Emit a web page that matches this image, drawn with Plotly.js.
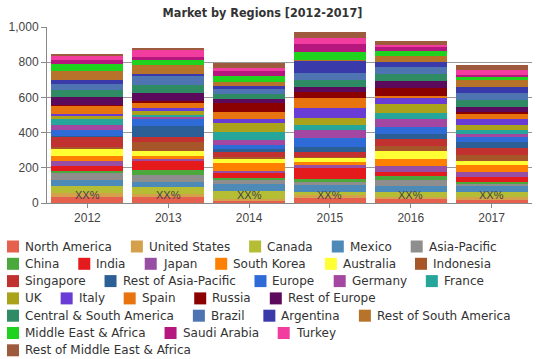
<!DOCTYPE html>
<html>
<head>
<meta charset="utf-8">
<script src="https://cdn.plot.ly/plotly-3.0.1.min.js"></script>
<style>html,body{margin:0;padding:0;background:#fff;}#chart{width:539px;height:359px;}</style>
</head>
<body>
<div id="chart"></div>
<script>
var years = ['2012', '2013', '2014', '2015', '2016', '2017'];
var regions = ['North America', 'United States', 'Canada', 'Mexico', 'Asia-Pacific',
  'China', 'India', 'Japan', 'South Korea', 'Australia', 'Indonesia',
  'Singapore', 'Rest of Asia-Pacific', 'Europe', 'Germany', 'France',
  'UK', 'Italy', 'Spain', 'Russia', 'Rest of Europe',
  'Central & South America', 'Brazil', 'Argentina', 'Rest of South America',
  'Middle East & Africa', 'Saudi Arabia', 'Turkey', 'Rest of Middle East & Africa'];
var colors = ['#e5604d', '#d4a04c', '#b5bd35', '#4e8ab8', '#8e8e8e',
  '#4aa83c', '#e41a1c', '#984ea3', '#ff7f00', '#ffff33', '#a65628',
  '#c0312f', '#2c5f96', '#2f6bd6', '#a347a3', '#26a69a',
  '#aaa21b', '#6a3cd6', '#e8740f', '#8b0000', '#5c0a5c',
  '#2e8b64', '#4f74b2', '#3a3aaa', '#b8732a',
  '#1ed21e', '#b5177f', '#f23ca0', '#9e5a3c'];
var values2012 = [35,20,40,38,40,10,28,25,32,40,10,55,10,32,27,36,15,12,45,8,45,40,36,22,50,38,22,26,12];
var values2013 = [36,15,38,32,38,28,53,10,19,28,48,32,63,38,13,11,23,15,27,11,46,44,51,15,48,28,19,42,11];
var values2014 = [12,10,44,44,23,10,28,10,48,19,15,27,15,23,30,46,50,23,42,50,23,28,28,19,19,38,25,19,25];
var values2015 = [27,20,17,38,20,15,60,19,19,19,9,29,28,47,48,28,42,53,57,38,28,38,38,70,5,44,45,38,31];
var values2016 = [21,15,29,29,38,19,23,34,42,44,29,38,29,44,42,38,48,32,15,42,44,38,38,32,34,29,19,13,20];
var values2017 = [17,19,29,29,15,8,30,27,44,23,29,44,32,29,19,23,25,38,25,13,29,38,42,34,38,19,10,25,29];
var barLabels = ['XX%', 'XX%', 'XX%', 'XX%', 'XX%', 'XX%'];
var chartTitle = 'Market by Regions [2012-2017]';

var byYear = [values2012, values2013, values2014, values2015, values2016, values2017];

var traces = regions.map(function (name, i) {
  return {
    type: 'bar',
    name: name,
    x: years,
    y: byYear.map(function (v) { return v[i]; }),
    marker: { color: colors[i] },
    hoverinfo: 'name+y'
  };
});

// plot area geometry (pixels)
var W = 539, H = 359;
var mL = 47, mR = 7, mT = 27, mB = 156;
var pw = W - mL - mR, ph = H - mT - mB;
function px2x(px) { return (px - mL) / pw; }
function py2y(py) { return (H - mB - py) / ph; }

// custom flow legend
var legendFont = "'DejaVu Sans', sans-serif";
var legendSize = 12;
var cvs = document.createElement('canvas');
var ctx = cvs.getContext('2d');
ctx.font = legendSize + "px " + legendFont;
var shapes = [], annotations = [];
var lx = 7, row = 0, rowY0 = 246.5, rowH = 17.3, maxRight = 537;
regions.forEach(function (name, i) {
  var tw = ctx.measureText(name).width;
  if (lx + 18 + tw > maxRight && lx > 7) { row++; lx = 7; }
  var cy = rowY0 + row * rowH;
  shapes.push({
    type: 'rect', xref: 'paper', yref: 'paper',
    x0: px2x(lx), x1: px2x(lx + 12), y0: py2y(cy + 6), y1: py2y(cy - 6),
    fillcolor: colors[i], line: { width: 0 }
  });
  annotations.push({
    xref: 'paper', yref: 'paper', x: px2x(lx + 17), y: py2y(cy),
    xanchor: 'left', yanchor: 'middle', showarrow: false, text: name,
    font: { family: legendFont, size: legendSize, color: '#333' }, borderpad: 0
  });
  lx += 18 + tw + 19;
});

years.forEach(function (yr, i) {
  annotations.push({
    x: i, y: 43, xref: 'x', yref: 'y', text: barLabels[i], showarrow: false,
    font: { family: 'Liberation Sans, Arial, sans-serif', size: 11, color: '#444' }
  });
});

var layout = {
  width: W, height: H,
  margin: { l: mL, r: mR, t: mT, b: mB, pad: 0 },
  paper_bgcolor: '#fff', plot_bgcolor: '#fff',
  barmode: 'stack', bargap: 0.11,
  showlegend: false,
  title: {
    text: chartTitle, xref: 'container', yref: 'container', x: 0.487, y: 0.964,
    xanchor: 'center', yanchor: 'middle',
    font: { family: "'DejaVu Sans Condensed', sans-serif", size: 12.5, weight: 700, color: '#333' }
  },
  xaxis: {
    type: 'category', categoryorder: 'array', categoryarray: years, range: [-0.5, 5.5],
    showline: true, linecolor: '#888', linewidth: 1,
    ticks: 'outside', ticklen: 4, tickcolor: '#888', showgrid: false,
    tickfont: { family: 'Liberation Sans, Arial, sans-serif', size: 12, color: '#444' }
  },
  yaxis: {
    range: [0, 1000], dtick: 200, tickformat: ',', showline: true, linecolor: '#888', linewidth: 1,
    ticks: 'outside', ticklen: 5, tickcolor: '#888', gridcolor: '#999', gridwidth: 1, zeroline: false,
    tickfont: { family: 'Liberation Sans, Arial, sans-serif', size: 12, color: '#444' }
  },
  shapes: shapes,
  annotations: annotations
};

Plotly.newPlot('chart', traces, layout, { displayModeBar: false, staticPlot: true });
</script>
</body>
</html>
